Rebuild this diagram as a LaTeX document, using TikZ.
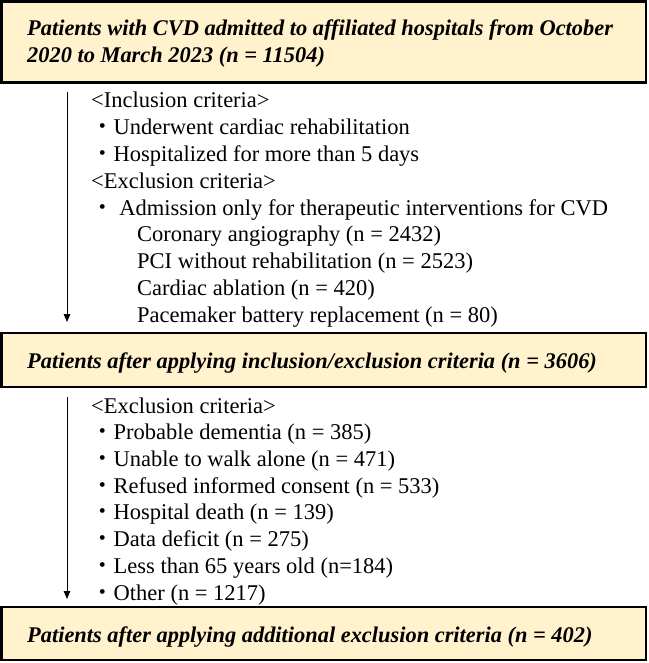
\documentclass[tikz,border=0pt]{standalone}
\usepackage{fontspec}
\setmainfont{Liberation Serif}
\newfontfamily\cjk{Noto Sans CJK JP}
\usetikzlibrary{arrows.meta}
\definecolor{boxfill}{HTML}{FFF2CC}
\newcommand\jdot{{\cjk ・}}
\begin{document}
\begin{tikzpicture}[x=1pt,y=-1pt,
  box/.style={draw=black, line width=2.8pt, fill=boxfill, minimum width=644.5pt, inner sep=0pt},
  title/.style={anchor=base west, inner sep=0pt, font=\fontsize{22.4}{27}\selectfont\bfseries\itshape},
  txt/.style={anchor=base west, inner sep=0pt, font=\fontsize{22.5}{26}\selectfont},
  flow/.style={line width=1pt, -{Triangle[length=8pt,width=6.5pt]}}]
\useasboundingbox (0,0) rectangle (648,663);
% boxes
\node[box, minimum height=81pt] (b1) at (323.75,42) {};
\node[box, minimum height=54pt] (b2) at (323.75,360) {};
\node[box, minimum height=53pt] (b3) at (323.75,633.5) {};
% box texts
\node[title] (t1a) at (27,36) {Patients with CVD admitted to affiliated hospitals from October};
\node[title] (t1b) at (27,63) {2020 to March 2023 (n = 11504)};
\node[title] (t2) at (27,368) {Patients after applying inclusion/exclusion criteria (n = 3606)};
\node[title] (t3) at (27,642) {Patients after applying additional exclusion criteria (n = 402)};
% first criteria block
\node[txt] (c1) at (91,108) {<Inclusion criteria>};
\node[txt] (c2) at (91,134.75) {\jdot Underwent cardiac rehabilitation};
\node[txt] (c3) at (91,161.5) {\jdot Hospitalized for more than 5 days};
\node[txt] (c4) at (91,188.25) {<Exclusion criteria>};
\node[txt] (c5) at (91,215) {\jdot\ Admission only for therapeutic interventions for CVD};
\node[txt] (c6) at (137,241.75) {Coronary angiography (n = 2432)};
\node[txt] (c7) at (137,268.5) {PCI without rehabilitation (n = 2523)};
\node[txt] (c8) at (137,295.25) {Cardiac ablation (n = 420)};
\node[txt] (c9) at (137,322) {Pacemaker battery replacement (n = 80)};
% second criteria block
\node[txt] (d1) at (91,413) {<Exclusion criteria>};
\node[txt] (d2) at (91,439.7) {\jdot Probable dementia (n = 385)};
\node[txt] (d3) at (91,466.4) {\jdot Unable to walk alone (n = 471)};
\node[txt] (d4) at (91,493.1) {\jdot Refused informed consent (n = 533)};
\node[txt] (d5) at (91,519.9) {\jdot Hospital death (n = 139)};
\node[txt] (d6) at (91,546.6) {\jdot Data deficit (n = 275)};
\node[txt] (d7) at (91,573.3) {\jdot Less than 65 years old (n=184)};
\node[txt] (d8) at (91,600) {\jdot Other (n = 1217)};
% arrows
\coordinate (a1s) at (67,92);
\coordinate (a1e) at (67,322);
\coordinate (a2s) at (67,397);
\coordinate (a2e) at (67,599);
\draw[flow] (a1s) -- (a1e);
\draw[flow] (a2s) -- (a2e);
\end{tikzpicture}
\end{document}
